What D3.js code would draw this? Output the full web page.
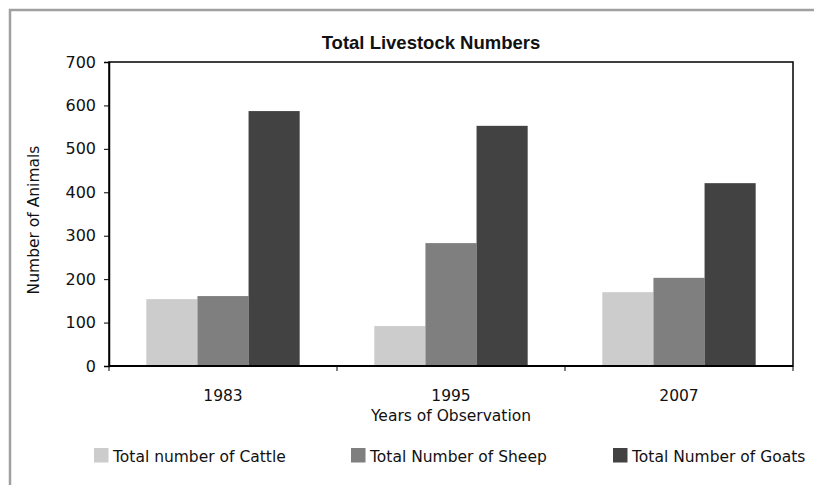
<!DOCTYPE html>
<html>
<head>
<meta charset="utf-8">
<script src="https://cdn.jsdelivr.net/npm/d3@7"></script>
<style>
  html, body { margin: 0; padding: 0; background: #fff; overflow: hidden; }
  svg { display: block; }
  text { font-family: "DejaVu Sans", Verdana, sans-serif; fill: #111; }
</style>
</head>
<body>
<svg id="chart" width="814" height="485"></svg>
<script>
// Livestock counts per observation year
const years = ["1983", "1995", "2007"];
const seriesNames = ["Total number of Cattle", "Total Number of Sheep", "Total Number of Goats"];
const cattle = [154, 92, 170];
const sheep = [161, 283, 203];
const goats = [587, 553, 421];
const yTicks = [0, 100, 200, 300, 400, 500, 600, 700];
const seriesColors = ["#cccccc", "#7f7f7f", "#424242"];

const seriesValues = [cattle, sheep, goats];

const svg = d3.select("#chart");

// outer chart frame (top and left edges visible)
svg.append("path")
  .attr("d", "M10,485 L10,10 L814,10")
  .attr("fill", "none").attr("stroke", "#a0a0a0").attr("stroke-width", 2.5);

const plot = { left: 109, right: 793, top: 62, bottom: 366 };

const x0 = d3.scaleBand().domain(years).range([plot.left, plot.right]).paddingInner(0).paddingOuter(0);
const x1 = d3.scaleBand().domain(d3.range(seriesNames.length))
  .range([0, x0.bandwidth()]).paddingOuter(0.73).paddingInner(0);
const y = d3.scaleLinear().domain([0, 700]).range([plot.bottom, plot.top]);

// plot area border
svg.append("rect")
  .attr("x", plot.left).attr("y", plot.top)
  .attr("width", plot.right - plot.left).attr("height", plot.bottom - plot.top)
  .attr("fill", "#fff").attr("stroke", "#000").attr("stroke-width", 1.5);

// bars
const groups = svg.append("g").selectAll("g")
  .data(years)
  .join("g")
  .attr("transform", d => `translate(${x0(d)},0)`);

groups.selectAll("rect")
  .data((d, i) => seriesValues.map((vals, s) => ({ s, v: vals[i] })))
  .join("rect")
  .attr("x", d => x1(d.s))
  .attr("width", x1.bandwidth())
  .attr("y", d => y(d.v))
  .attr("height", d => y(0) - y(d.v))
  .attr("fill", d => seriesColors[d.s]);

// y axis
const yAxis = svg.append("g")
  .attr("transform", `translate(${plot.left},0)`)
  .call(d3.axisLeft(y).tickValues(yTicks).tickSize(5).tickPadding(8));
yAxis.select(".domain").attr("stroke", "#000").attr("stroke-width", 1.5);
yAxis.selectAll(".tick line").attr("stroke", "#000");
yAxis.selectAll("text").style("font-size", "16px").attr("fill", "#111");

// x axis: ticks at category boundaries
const xAxis = svg.append("g")
  .attr("transform", `translate(0,${plot.bottom})`);
xAxis.append("line")
  .attr("x1", plot.left).attr("x2", plot.right)
  .attr("stroke", "#000").attr("stroke-width", 2);
const boundaries = years.map(d => x0(d)).concat([x0(years[years.length - 1]) + x0.bandwidth()]);
xAxis.selectAll("line.bt")
  .data(boundaries)
  .join("line").attr("class", "bt")
  .attr("x1", d => d).attr("x2", d => d)
  .attr("y1", 0).attr("y2", 5)
  .attr("stroke", "#000");
xAxis.selectAll("text")
  .data(years)
  .join("text")
  .attr("x", d => x0(d) + x0.bandwidth() / 2)
  .attr("y", 35)
  .attr("text-anchor", "middle")
  .style("font-size", "15.5px")
  .text(d => d);

// axis titles
svg.append("text")
  .attr("x", (plot.left + plot.right) / 2).attr("y", 421)
  .attr("text-anchor", "middle")
  .style("font-size", "15.5px")
  .text("Years of Observation");

svg.append("text")
  .attr("transform", `translate(39,${(plot.top + plot.bottom) / 2 + 6}) rotate(-90)`)
  .attr("text-anchor", "middle")
  .style("font-size", "15.5px")
  .text("Number of Animals");

// title
svg.append("text")
  .attr("x", 431).attr("y", 49)
  .attr("text-anchor", "middle")
  .style("font-family", "'Liberation Sans Narrow', 'Arial Narrow', sans-serif")
  .style("font-weight", "bold")
  .style("font-size", "18.5px")
  .text("Total Livestock Numbers");

// legend
const legendX = [94, 351, 613];
const legend = svg.append("g").selectAll("g")
  .data(seriesNames)
  .join("g")
  .attr("transform", (d, i) => `translate(${legendX[i]},448)`);
legend.append("rect")
  .attr("width", 14.5).attr("height", 14.5)
  .attr("fill", (d, i) => seriesColors[i]);
legend.append("text")
  .attr("x", 19).attr("y", 13.5)
  .style("font-size", "15.5px")
  .text(d => d);
</script>
</body>
</html>
